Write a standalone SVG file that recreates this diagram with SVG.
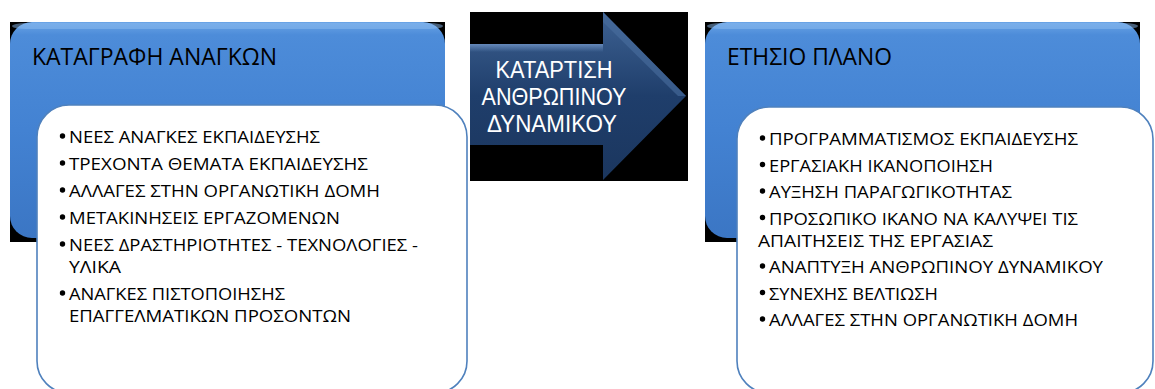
<svg xmlns="http://www.w3.org/2000/svg" width="1155" height="389" viewBox="0 0 1155 389">
<defs>
<linearGradient id="blueG" x1="0" y1="0" x2="0" y2="1">
<stop offset="0" stop-color="#6AA4E6"/>
<stop offset="0.06" stop-color="#4D8CD9"/>
<stop offset="0.5" stop-color="#4382D2"/>
<stop offset="1" stop-color="#3B76C4"/>
</linearGradient>
<linearGradient id="navyG" x1="0" y1="0" x2="0" y2="1">
<stop offset="0" stop-color="#3E6293"/>
<stop offset="0.5" stop-color="#1F3E6B"/>
<stop offset="1" stop-color="#1B365E"/>
</linearGradient>
<linearGradient id="shaftTop" x1="0" y1="0" x2="0" y2="1">
<stop offset="0" stop-color="#6B8FC0" stop-opacity="0.9"/>
<stop offset="1" stop-color="#6B8FC0" stop-opacity="0"/>
</linearGradient>
<style>
.bg{fill:#000}
.blue{fill:url(#blueG)}
.card{fill:#fff;stroke:#4F81BD;stroke-width:1.6}
.title{font-family:"Open Sans","Noto Sans","DejaVu Sans",sans-serif;font-size:23px;fill:#000}
.item{font-family:"Open Sans","Noto Sans","DejaVu Sans",sans-serif;font-size:16px;fill:#000}
.atext{font-family:"Liberation Sans","DejaVu Sans",sans-serif;font-size:23px;fill:#fff;text-anchor:middle}
.dot{fill:#000}
</style>
</defs>

<g id="node-left">
<rect class="bg" x="10" y="22" width="435" height="220"/>
<rect class="blue" x="10" y="22" width="435" height="216" rx="22" ry="22"/>
<rect x="12" y="23" width="431" height="6" rx="14" fill="#8BBBF0" opacity="0.5"/>
<text class="title" x="32" y="65" textLength="245" lengthAdjust="spacingAndGlyphs">ΚΑΤΑΓΡΑΦΗ ΑΝΑΓΚΩΝ</text>
<rect class="card" x="37" y="105" width="430" height="288" rx="32" ry="32"/>
<circle class="dot" cx="62.5" cy="136" r="2.7"/>
<text class="item" x="69" y="143" textLength="251" lengthAdjust="spacingAndGlyphs">ΝΕΕΣ ΑΝΑΓΚΕΣ ΕΚΠΑΙΔΕΥΣΗΣ</text>
<circle class="dot" cx="62.5" cy="163" r="2.7"/>
<text class="item" x="69" y="170" textLength="299" lengthAdjust="spacingAndGlyphs">ΤΡΕΧΟΝΤΑ ΘΕΜΑΤΑ ΕΚΠΑΙΔΕΥΣΗΣ</text>
<circle class="dot" cx="62.5" cy="190" r="2.7"/>
<text class="item" x="69" y="197" textLength="311" lengthAdjust="spacingAndGlyphs">ΑΛΛΑΓΕΣ ΣΤΗΝ ΟΡΓΑΝΩΤΙΚΗ ΔΟΜΗ</text>
<circle class="dot" cx="62.5" cy="217" r="2.7"/>
<text class="item" x="69" y="224" textLength="271" lengthAdjust="spacingAndGlyphs">ΜΕΤΑΚΙΝΗΣΕΙΣ ΕΡΓΑΖΟΜΕΝΩΝ</text>
<circle class="dot" cx="62.5" cy="244" r="2.7"/>
<text class="item" x="69" y="251" textLength="349" lengthAdjust="spacingAndGlyphs">ΝΕΕΣ ΔΡΑΣΤΗΡΙΟΤΗΤΕΣ - ΤΕΧΝΟΛΟΓΙΕΣ -</text>
<text class="item" x="69" y="273" textLength="52" lengthAdjust="spacingAndGlyphs">ΥΛΙΚΑ</text>
<circle class="dot" cx="62.5" cy="293" r="2.7"/>
<text class="item" x="69" y="300" textLength="216" lengthAdjust="spacingAndGlyphs">ΑΝΑΓΚΕΣ ΠΙΣΤΟΠΟΙΗΣΗΣ</text>
<text class="item" x="69" y="322" textLength="282" lengthAdjust="spacingAndGlyphs">ΕΠΑΓΓΕΛΜΑΤΙΚΩΝ ΠΡΟΣΟΝΤΩΝ</text>
</g>

<g id="node-arrow">
<rect class="bg" x="470" y="12" width="218" height="169"/>
<polygon points="470,44 603,44 603,12 686,96 603,180 603,145 470,145" fill="url(#navyG)"/>
<polygon points="470,44 603,44 603,52 470,52" fill="url(#shaftTop)"/>
<polygon points="603,12 686,96 678,96 603,22" fill="#4A6E9F" opacity="0.6"/>
<text class="atext" x="554" y="78" textLength="117" lengthAdjust="spacingAndGlyphs">ΚΑΤΑΡΤΙΣΗ</text>
<text class="atext" x="554" y="105" textLength="145" lengthAdjust="spacingAndGlyphs">ΑΝΘΡΩΠΙΝΟΥ</text>
<text class="atext" x="552" y="132" textLength="130" lengthAdjust="spacingAndGlyphs">ΔΥΝΑΜΙΚΟΥ</text>
</g>

<g id="node-right">
<rect class="bg" x="705" y="22" width="435" height="220"/>
<rect class="blue" x="705" y="22" width="435" height="216" rx="22" ry="22"/>
<rect x="707" y="23" width="431" height="6" rx="14" fill="#8BBBF0" opacity="0.5"/>
<text class="title" x="727" y="65" textLength="165" lengthAdjust="spacingAndGlyphs">ΕΤΗΣΙΟ ΠΛΑΝΟ</text>
<rect class="card" x="737" y="107" width="416" height="286" rx="32" ry="32"/>
<circle class="dot" cx="762.5" cy="138" r="2.7"/>
<text class="item" x="769" y="145" textLength="309" lengthAdjust="spacingAndGlyphs">ΠΡΟΓΡΑΜΜΑΤΙΣΜΟΣ ΕΚΠΑΙΔΕΥΣΗΣ</text>
<circle class="dot" cx="762.5" cy="164.5" r="2.7"/>
<text class="item" x="769" y="171.5" textLength="224" lengthAdjust="spacingAndGlyphs">ΕΡΓΑΣΙΑΚΗ ΙΚΑΝΟΠΟΙΗΣΗ</text>
<circle class="dot" cx="762.5" cy="191" r="2.7"/>
<text class="item" x="769" y="198" textLength="243" lengthAdjust="spacingAndGlyphs">ΑΥΞΗΣΗ ΠΑΡΑΓΩΓΙΚΟΤΗΤΑΣ</text>
<circle class="dot" cx="762.5" cy="217.5" r="2.7"/>
<text class="item" x="769" y="224.5" textLength="309" lengthAdjust="spacingAndGlyphs">ΠΡΟΣΩΠΙΚΟ ΙΚΑΝΟ ΝΑ ΚΑΛΥΨΕΙ ΤΙΣ</text>
<text class="item" x="758" y="246.5" textLength="235" lengthAdjust="spacingAndGlyphs">ΑΠΑΙΤΗΣΕΙΣ ΤΗΣ ΕΡΓΑΣΙΑΣ</text>
<circle class="dot" cx="762.5" cy="266" r="2.7"/>
<text class="item" x="769" y="273" textLength="334" lengthAdjust="spacingAndGlyphs">ΑΝΑΠΤΥΞΗ ΑΝΘΡΩΠΙΝΟΥ ΔΥΝΑΜΙΚΟΥ</text>
<circle class="dot" cx="762.5" cy="292.5" r="2.7"/>
<text class="item" x="769" y="299.5" textLength="169" lengthAdjust="spacingAndGlyphs">ΣΥΝΕΧΗΣ ΒΕΛΤΙΩΣΗ</text>
<circle class="dot" cx="762.5" cy="319" r="2.7"/>
<text class="item" x="769" y="326" textLength="309" lengthAdjust="spacingAndGlyphs">ΑΛΛΑΓΕΣ ΣΤΗΝ ΟΡΓΑΝΩΤΙΚΗ ΔΟΜΗ</text>
</g>

<g id="connectors"/>
</svg>
